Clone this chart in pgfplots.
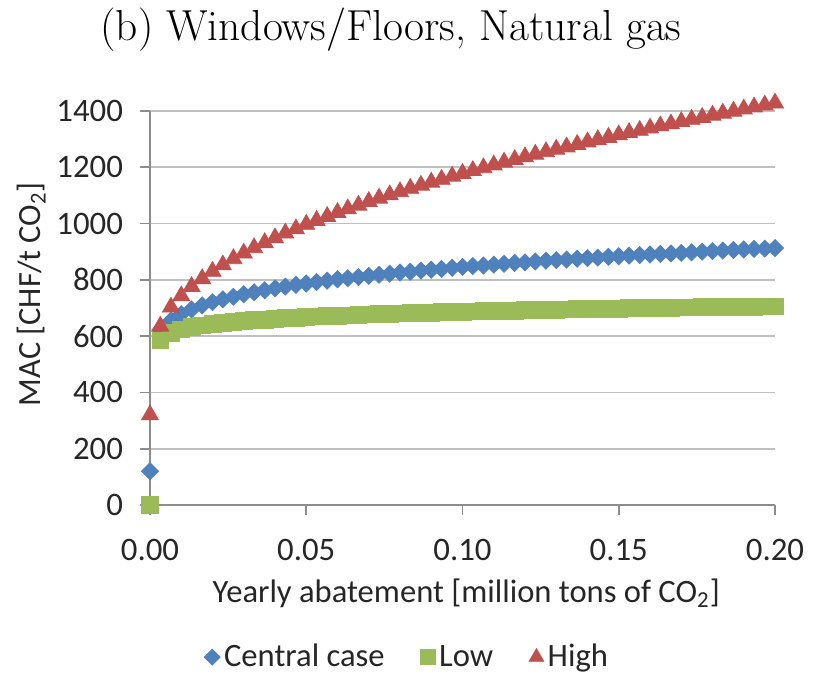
\documentclass[border=0pt]{standalone}
\usepackage{fontspec}
\usepackage{pgfplots}
\usepackage{pgfplotstable}
\pgfplotsset{compat=1.18}
\newfontfamily\carlito{Carlito}
\definecolor{cblue}{HTML}{4F81BD}
\definecolor{cgreen}{HTML}{9BBB59}
\definecolor{cred}{HTML}{C0504D}
\definecolor{gridc}{HTML}{C0C0C0}
\definecolor{axc}{HTML}{8C8C8C}

\pgfplotstableread{
x central low high
0.0000 120 0 320
0.0033 622 585 635
0.0067 656 612 703
0.0100 678 624 743
0.0133 695 632 776
0.0167 709 638 804
0.0200 721 643 830
0.0233 731 647 853
0.0267 740 651 875
0.0300 749 654 895
0.0333 756 657 914
0.0367 763 659 932
0.0400 770 662 949
0.0433 776 664 966
0.0467 782 666 981
0.0500 787 668 997
0.0533 792 670 1011
0.0567 797 671 1025
0.0600 802 673 1039
0.0633 806 674 1052
0.0667 810 676 1065
0.0700 814 677 1078
0.0733 818 678 1090
0.0767 822 680 1102
0.0800 826 681 1113
0.0833 829 682 1125
0.0867 833 683 1136
0.0900 836 684 1147
0.0933 839 685 1157
0.0967 843 686 1168
0.1000 846 687 1178
0.1033 849 688 1188
0.1067 851 689 1198
0.1100 854 690 1208
0.1133 857 690 1218
0.1167 860 691 1227
0.1200 862 692 1237
0.1233 865 693 1246
0.1267 868 693 1255
0.1300 870 694 1264
0.1333 872 695 1272
0.1367 875 696 1281
0.1400 877 696 1290
0.1433 879 697 1298
0.1467 882 697 1306
0.1500 884 698 1315
0.1533 886 699 1323
0.1567 888 699 1331
0.1600 890 700 1339
0.1633 892 700 1347
0.1667 894 701 1354
0.1700 896 702 1362
0.1733 898 702 1370
0.1767 900 703 1377
0.1800 902 703 1385
0.1833 904 704 1392
0.1867 906 704 1399
0.1900 908 705 1407
0.1933 910 705 1414
0.1967 911 706 1421
0.2000 913 706 1428
}\datatable

\pgfplotsset{
  legmark/.style={legend image code/.code={\draw[##1, mark size=#1] plot coordinates {(0.25cm,0cm)};}},
}

\begin{document}
\begin{tikzpicture}
\useasboundingbox (-75pt,-84.5pt) rectangle (333.5pt,252.5pt);
\begin{axis}[
  at={(0,0)}, anchor=south west,
  scale only axis,
  width=312.5pt, height=197pt,
  xmin=0, xmax=0.2, ymin=0, ymax=1400,
  clip=false,
  axis lines=left,
  axis line style={-, color=axc, line width=0.8pt},
  xtick={0,0.05,0.1,0.15,0.2},
  ytick={0,200,400,600,800,1000,1200,1400},
  tick align=outside,
  major tick length=5pt,
  tick style={color=axc, line width=0.8pt},
  ymajorgrids,
  grid style={color=gridc, line width=0.8pt},
  /pgf/number format/assume math mode=true,
  /pgf/number format/1000 sep={},
  xticklabel style={/pgf/number format/fixed, /pgf/number format/precision=2, /pgf/number format/fixed zerofill, yshift=-8.5pt},
  yticklabel style={xshift=-5pt},
  ticklabel style={font=\carlito\fontsize{16.4}{19}\selectfont, color=black!85},
  xlabel={Yearly abatement [million tons of CO\textsubscript{2}]},
  ylabel={MAC [CHF/t CO\textsubscript{2}]},
  xlabel style={font=\carlito\fontsize{16.3}{19}\selectfont, color=black!85, at={(axis description cs:0.506,-0.223)}, anchor=center},
  ylabel style={font=\carlito\fontsize{16.2}{19}\selectfont, color=black!85, at={(axis description cs:-0.19,0.535)}, anchor=center, rotate=0},
  legend style={at={(axis description cs:0.413,-0.386)}, anchor=center, draw=none,
    legend columns=3, font=\carlito\fontsize{16.3}{19}\selectfont, text=black!85,
    /tikz/every even column/.append style={column sep=16pt}},
]
\addplot[only marks, mark=square*, mark size=3pt, mark options={rotate=45, fill=cblue, draw=cblue}, color=cblue, legmark=2.8pt] table[x=x, y=central] {\datatable};
\addlegendentry{Central case}
\addplot[only marks, mark=square*, mark size=4.2pt, mark options={fill=cgreen, draw=cgreen}, color=cgreen, legmark=3.6pt] table[x=x, y=low] {\datatable};
\addlegendentry{Low}
\addplot[only marks, mark=triangle*, mark size=4.9pt, mark options={fill=cred, draw=cred}, color=cred, legmark=4.2pt] table[x=x, y=high] {\datatable};
\addlegendentry{High}
\end{axis}
\node[anchor=center, font=\fontsize{21.7}{26}\selectfont] at (120.5pt,237.5pt) {(b) Windows/Floors, Natural gas};
\end{tikzpicture}
\end{document}
